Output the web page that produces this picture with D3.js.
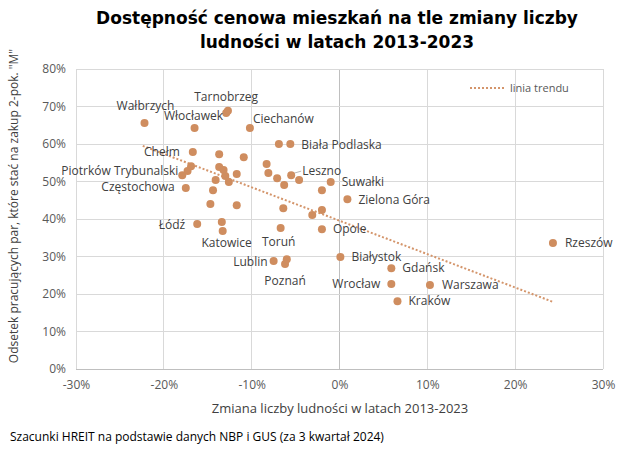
<!DOCTYPE html>
<html><head><meta charset="utf-8">
<script src="https://cdn.jsdelivr.net/npm/d3@7"></script>
<style>body{margin:0;background:#fff}svg{display:block}</style>
</head><body>
<script>
// ---- data ----
const cities = ["Wałbrzych","Włocławek","Tarnobrzeg","","Ciechanów","Biała Podlaska","","Chełm","","","","","","","Piotrków Trybunalski","","","","","","","","Leszno","","","Suwałki","","Częstochowa","","","","","Zielona Góra","","","Łódź","","Katowice","Toruń","Opole","Lublin","","Poznań","Białystok","Rzeszów","Gdańsk","Wrocław","Warszawa","Kraków"];
const popChange = [-22.2,-16.5,-12.9,-12.7,-10.2,-5.6,-6.9,-16.7,-13.7,-10.9,-8.3,-8.1,-16.9,-17.3,-17.9,-13.7,-13.2,-13.0,-12.6,-14.1,-11.7,-7.1,-5.5,-4.6,-6.3,-1.0,-2.0,-17.5,-14.4,-14.7,-11.7,-6.4,0.9,-2.0,-3.1,-16.2,-13.4,-13.3,-6.7,-2.0,-7.5,-6.0,-6.2,0.1,24.3,5.9,5.9,10.3,6.6];
const affordability = [65.6,64.3,68.3,68.9,64.3,60.0,60.0,57.9,57.3,56.5,54.7,52.3,54.1,52.8,51.7,53.9,53.1,51.5,49.9,50.4,52.0,50.9,51.7,50.4,49.1,49.9,47.7,48.3,47.7,44.0,43.7,42.9,45.3,42.4,41.1,38.7,39.2,36.8,37.6,37.3,28.8,29.3,28.0,29.9,33.6,26.9,22.7,22.4,18.1];
// linear trend endpoints
const trendX = [-22.4, 24.3];
const trendY = [59.5, 17.9];
const xTicks = [-30,-20,-10,0,10,20,30];
const yTicks = [0,10,20,30,40,50,60,70,80];
const titleLines = ["Dostępność cenowa mieszkań na tle zmiany liczby","ludności w latach 2013-2023"];
const xTitle = "Zmiana liczby ludności w latach 2013-2023";
const yTitle = "Odsetek pracujących par, które stać na zakup 2-pok. \"M\"";
const sourceText = "Szacunki HREIT na podstawie danych NBP i GUS (za 3 kwartał 2024)";
const legendLabel = "linia trendu";

// label placement (layout only): [dx, dy, anchor]
const labelPos = {
  "Wałbrzych":[1,-17,"middle"], "Włocławek":[-1,-12,"middle"], "Tarnobrzeg":[0,-16,"middle"],
  "Ciechanów":[3,-9,"start"], "Biała Podlaska":[11,1,"start"], "Chełm":[-13,0,"end"],
  "Piotrków Trybunalski":[-4,-4,"end"], "Częstochowa":[-11,-1,"end"], "Leszno":[11,-4,"start"],
  "Suwałki":[11,0,"start"], "Zielona Góra":[11,1,"start"], "Łódź":[-12,1,"end"],
  "Katowice":[4,12,"middle"], "Toruń":[-2,14,"middle"], "Opole":[11,0,"start"],
  "Lublin":[-6,1,"end"], "Poznań":[0,17,"middle"], "Białystok":[11,0,"start"],
  "Rzeszów":[12,0,"start"], "Gdańsk":[11,0,"start"], "Wrocław":[-11,0,"end"],
  "Warszawa":[12,0,"start"], "Kraków":[11,0,"start"]
};

const W = 640, H = 449;
const m = {left:76, right:37, top:69, bottom:80};
const svg = d3.select("body").append("svg").attr("width",W).attr("height",H);
const font = "'Open Sans', sans-serif";

const x = d3.scaleLinear().domain([-30,30]).range([m.left, W-m.right]);
const y = d3.scaleLinear().domain([0,80]).range([H-m.bottom, m.top]);
const pts = cities.map((c,i)=>({name:c, x:popChange[i], y:affordability[i]}));

// title
svg.append("g").selectAll("text").data(titleLines).join("text")
  .attr("x",337).attr("y",(d,i)=>24+i*24).attr("text-anchor","middle")
  .attr("font-family","'DejaVu Sans', sans-serif").attr("font-weight","bold").attr("font-size",17).attr("fill","#000")
  .text(d=>d);

// grid
const g = svg.append("g");
g.selectAll(".gx").data(xTicks).join("line")
  .attr("x1",d=>x(d)).attr("x2",d=>x(d)).attr("y1",y(0)).attr("y2",y(80))
  .attr("stroke",d=>d===0?"#bfbfbf":"#d9d9d9").attr("stroke-width",1).attr("shape-rendering","crispEdges");
g.selectAll(".gy").data(yTicks).join("line")
  .attr("x1",x(-30)).attr("x2",x(30)).attr("y1",d=>y(d)).attr("y2",d=>y(d))
  .attr("stroke",d=>d===0?"#bfbfbf":"#d9d9d9").attr("stroke-width",1).attr("shape-rendering","crispEdges");

// axes (labels)
const xAxis = d3.axisBottom(x).tickValues(xTicks).tickFormat(d=>d+"%").tickSize(0).tickPadding(11);
const yAxis = d3.axisLeft(y).tickValues(yTicks).tickFormat(d=>d+"%").tickSize(0).tickPadding(10);
const ax = svg.append("g").attr("transform",`translate(0,${y(0)})`).call(xAxis);
const ay = svg.append("g").attr("transform",`translate(${x(-30)},0)`).call(yAxis);
[ax,ay].forEach(a=>{a.select(".domain").remove();
  a.selectAll("text").attr("font-family",font).attr("font-size",12).attr("fill","#595959");});

// trend line
svg.append("path")
  .datum(trendX.map((v,i)=>[v,trendY[i]]))
  .attr("d",d3.line().x(d=>x(d[0])).y(d=>y(d[1])))
  .attr("fill","none").attr("stroke","#d4956b").attr("stroke-width",2).attr("stroke-dasharray","2,2");

// leader line for Leszno
const lz = pts.find(d=>d.name==="Leszno");
svg.append("line").attr("x1",x(lz.x)+3).attr("y1",y(lz.y)-2).attr("x2",x(lz.x)+10).attr("y2",y(lz.y)-4)
  .attr("stroke","#a6a6a6").attr("stroke-width",0.8);

// points
svg.append("g").selectAll("circle").data(pts).join("circle")
  .attr("cx",d=>x(d.x)).attr("cy",d=>y(d.y)).attr("r",4)
  .attr("fill","#cf8d5f");

// labels
svg.append("g").selectAll("text").data(pts.filter(d=>d.name)).join("text")
  .attr("x",d=>x(d.x)+labelPos[d.name][0]).attr("y",d=>y(d.y)+labelPos[d.name][1])
  .attr("dy","0.35em").attr("text-anchor",d=>labelPos[d.name][2])
  .attr("font-family",font).attr("font-size",12).attr("fill","#404040")
  .text(d=>d.name);

// legend
svg.append("line").attr("x1",470).attr("x2",505).attr("y1",88).attr("y2",88)
  .attr("stroke","#d4956b").attr("stroke-width",2).attr("stroke-dasharray","2,2");
svg.append("text").attr("x",510).attr("y",88).attr("dy","0.35em")
  .attr("font-family",font).attr("font-size",11).attr("fill","#595959").text(legendLabel);

// axis titles
svg.append("text").attr("x",340).attr("y",408).attr("dy","0.35em").attr("text-anchor","middle")
  .attr("font-family",font).attr("font-size",13).attr("fill","#404040").text(xTitle);
svg.append("text").attr("transform","translate(14,206) rotate(-90)").attr("dy","0.35em").attr("text-anchor","middle")
  .attr("font-family",font).attr("font-size",12).attr("fill","#404040").text(yTitle);

// source
svg.append("text").attr("x",10).attr("y",437).attr("dy","0.35em")
  .attr("font-family",font).attr("font-size",12).attr("fill","#000").text(sourceText);
</script>
</body></html>
